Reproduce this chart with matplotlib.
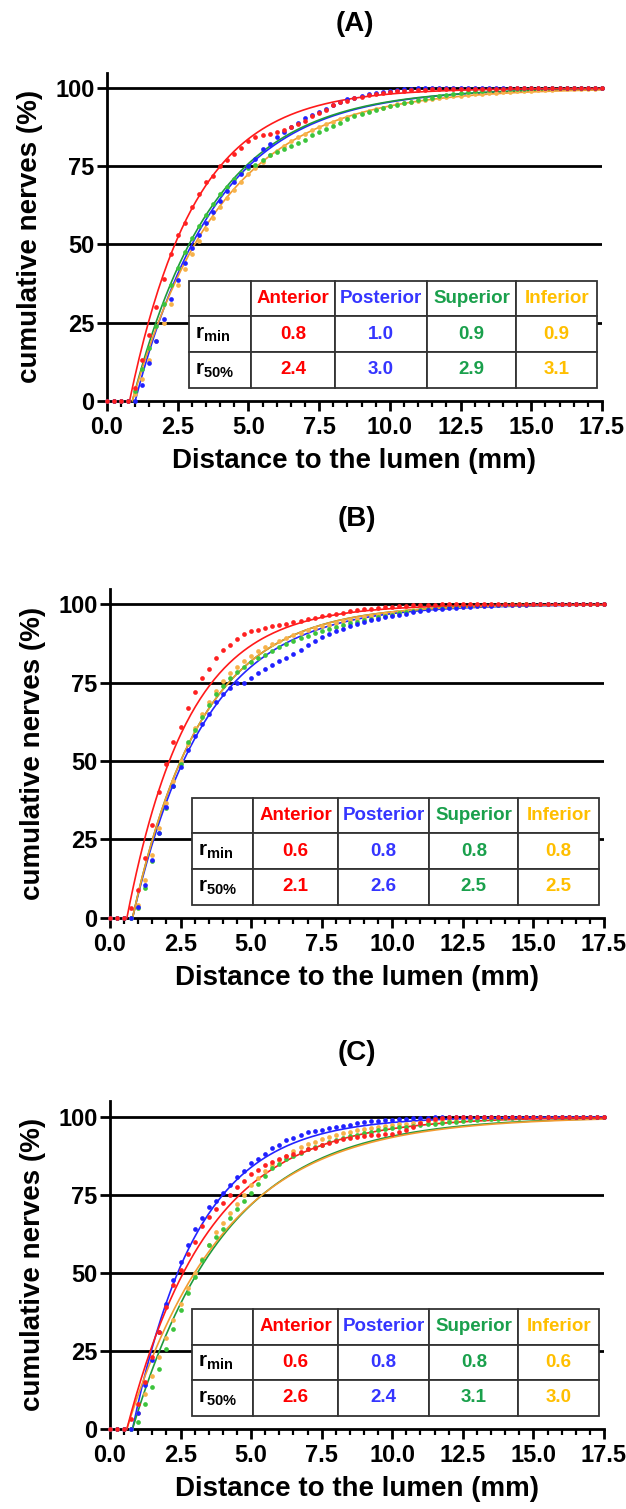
import numpy as np
import matplotlib.pyplot as plt
from matplotlib.table import Table
from matplotlib.ticker import MultipleLocator, FormatStrFormatter

plt.rcParams['font.family'] = ['Liberation Sans', 'DejaVu Sans']
plt.rcParams['font.weight'] = 'bold'
plt.rcParams['mathtext.fontset'] = 'custom'
plt.rcParams['mathtext.bf'] = 'Liberation Sans:bold'
plt.rcParams['mathtext.rm'] = 'Liberation Sans:bold'

REGIONS = ["Anterior", "Posterior", "Superior", "Inferior"]
DISTANCE = np.arange(0, 17.5 + 0.125, 0.25)        # bin positions (mm)

# ---- panel A : measured cumulative % per bin ----
A_ANTERIOR = [0, 0, 0, 0, 4, 13, 21, 30, 39, 47,
              53, 57, 62, 66, 70, 72, 75, 77, 79, 81,
              83, 84.5, 85, 85.5, 86, 86.5, 87.5, 88.5, 89.5, 91,
              92, 93, 94.5, 95.5, 96, 96.8, 97.3, 97.8, 98.2, 98.5,
              98.8, 99, 99.2, 99.3, 99.4, 99.5, 99.6, 99.6, 99.7, 99.8,
              99.8, 99.8, 99.8, 99.9, 99.9, 99.9, 99.9, 100, 100, 100,
              100, 100, 100, 100, 100, 100, 100, 100, 100, 100,
              100]
A_POSTERIOR = [0, 0, 0, 0, 0, 5, 12, 19, 26, 32.5,
               38.5, 44, 49, 53, 57, 60.5, 64, 67, 70, 72.5,
               75, 77.5, 80.5, 82, 84.5, 86, 87.5, 89, 90.5, 91.5,
               92.5, 93.5, 94.5, 95.5, 96.5, 97, 97.5, 98, 98.5, 98.8,
               99.2, 99.5, 99.7, 99.9, 100, 100, 100, 100, 100, 100,
               100, 100, 100, 100, 100, 100, 100, 100, 100, 100,
               100, 100, 100, 100, 100, 100, 100, 100, 100, 100,
               100]
A_SUPERIOR = [0, 0, 0, 0, 3, 10, 17, 24, 31, 37,
              42.5, 47.5, 52, 56, 59.5, 63, 66, 68.5, 71, 73,
              74.5, 75.5, 77, 78.5, 79.5, 80.5, 81.5, 82.5, 83.5, 85,
              86, 87, 88, 89, 90, 91, 91.8, 92.5, 93, 93.6,
              94.2, 94.7, 95.2, 95.7, 96.2, 96.6, 97, 97.4, 97.8, 98.1,
              98.4, 98.7, 99, 99.2, 99.4, 99.6, 99.7, 99.8, 99.9, 99.9,
              100, 100, 100, 100, 100, 100, 100, 100, 100, 100,
              100]
A_INFERIOR = [0, 0, 0, 0, 2, 7, 13, 19, 25, 31,
              37, 42, 47, 51, 55, 58.5, 62, 65, 67.5, 70,
              72.5, 74.5, 76.5, 78.5, 80, 81.5, 83, 84.5, 85.5, 86.5,
              87.5, 88.5, 89.3, 90, 90.8, 91.5, 92.2, 92.8, 93.3, 93.8,
              94.3, 94.8, 95.2, 95.6, 96, 96.3, 96.6, 96.9, 97.1, 97.4,
              97.6, 97.8, 98, 98.2, 98.4, 98.6, 98.7, 98.9, 99, 99.1,
              99.2, 99.3, 99.4, 99.5, 99.6, 99.7, 99.8, 99.8, 99.9, 99.9,
              100]
A_RMIN = [0.8, 1.0, 0.9, 0.9]
A_R50 = [2.4, 3.0, 2.9, 3.1]

# ---- panel B ----
B_ANTERIOR = [0, 0, 0, 3, 9, 19, 29.5, 40, 49, 56,
              61, 67, 72, 76.5, 79.5, 83, 85.5, 87, 89, 90.5,
              91.5, 92, 92.5, 93, 93.3, 93.8, 94.3, 94.8, 95.3, 95.8,
              96.2, 96.6, 97, 97.4, 97.8, 98.1, 98.4, 98.7, 98.9, 99.1,
              99.3, 99.5, 99.6, 99.7, 99.8, 99.9, 99.9, 100, 100, 100,
              100, 100, 100, 100, 100, 100, 100, 100, 100, 100,
              100, 100, 100, 100, 100, 100, 100, 100, 100, 100,
              100]
B_POSTERIOR = [0, 0, 0, 0, 3.5, 10.5, 18.5, 27, 35.5, 42,
               48, 53.5, 58, 62, 65, 69, 71.5, 73.5, 74.8, 75,
               76.5, 78, 79.5, 80.6, 82, 83, 84.3, 85.5, 87, 88.3,
               89.5, 90.5, 91.5, 92.2, 93, 93.7, 94.3, 94.9, 95.4, 95.9,
               96.3, 96.7, 97.1, 97.5, 97.8, 98.1, 98.4, 98.6, 98.8, 99,
               99.2, 99.3, 99.4, 99.5, 99.6, 99.7, 99.8, 99.8, 99.9, 99.9,
               100, 100, 100, 100, 100, 100, 100, 100, 100, 100,
               100]
B_SUPERIOR = [0, 0, 0, 0, 3, 9.5, 18, 27, 35, 42,
              49, 56, 60, 64, 68, 71.5, 74, 76.5, 78.5, 80,
              81.5, 83, 84, 85.3, 86.3, 87.3, 88.3, 89.2, 90, 90.8,
              91.5, 92.2, 92.8, 93.4, 94, 94.5, 95, 95.5, 96, 96.4,
              96.8, 97.2, 97.6, 97.9, 98.2, 98.5, 98.8, 99, 99.2, 99.4,
              99.5, 99.6, 99.7, 99.8, 99.9, 99.9, 100, 100, 100, 100,
              100, 100, 100, 100, 100, 100, 100, 100, 100, 100,
              100]
B_INFERIOR = [0, 0, 0, 0, 4, 12, 20, 28.5, 36.5, 43.5,
              50, 55.5, 60.5, 65, 69, 72.5, 75.5, 78, 80, 82,
              83.5, 85, 86.3, 87.5, 88.5, 89.4, 90.2, 91, 91.7, 92.4,
              93, 93.6, 94.1, 94.6, 95.1, 95.5, 95.9, 96.3, 96.7, 97,
              97.3, 97.6, 97.9, 98.2, 98.4, 98.6, 98.8, 99, 99.1, 99.2,
              99.3, 99.4, 99.5, 99.6, 99.7, 99.7, 99.8, 99.8, 99.9, 99.9,
              100, 100, 100, 100, 100, 100, 100, 100, 100, 100,
              100]
B_RMIN = [0.6, 0.8, 0.8, 0.8]
B_R50 = [2.1, 2.6, 2.5, 2.5]

# ---- panel C ----
C_ANTERIOR = [0, 0, 0, 3, 8, 15, 23, 31, 39, 46,
              51, 56, 60, 65, 68, 70.5, 72.5, 75, 77.5, 79.5,
              81.5, 83, 84.5, 85.5, 86.5, 87.5, 88, 88.8, 89.5, 90,
              90.8, 91.5, 92.2, 92.8, 93.2, 93.5, 93.8, 94, 94.2, 94.4,
              94.6, 95, 95.6, 96.8, 98, 98.8, 99.3, 99.6, 99.8, 99.9,
              100, 100, 100, 100, 100, 100, 100, 100, 100, 100,
              100, 100, 100, 100, 100, 100, 100, 100, 100, 100,
              100]
C_POSTERIOR = [0, 0, 0, 0, 5, 14, 22, 31, 40, 47.8,
               53.5, 59, 64, 67.5, 71, 73, 75.5, 78, 80.8, 82.5,
               85.2, 86.6, 88, 90, 91, 92.5, 93.3, 94.1, 95, 95.5,
               95.9, 96.3, 96.7, 97.1, 97.5, 97.9, 98.2, 98.5, 98.7, 98.9,
               99.1, 99.3, 99.4, 99.5, 99.6, 99.7, 99.8, 99.8, 99.9, 99.9,
               100, 100, 100, 100, 100, 100, 100, 100, 100, 100,
               100, 100, 100, 100, 100, 100, 100, 100, 100, 100,
               100]
C_SUPERIOR = [0, 0, 0, 0, 2, 8, 13.5, 19, 25.5, 32,
              38, 43.5, 48.5, 54, 59, 61.5, 64, 67.5, 70.5, 73,
              75.5, 78.5, 81, 83.5, 85, 86.5, 87.5, 88.5, 89.5, 90.3,
              91, 91.8, 92.5, 93.2, 93.8, 94.3, 94.8, 95.2, 95.6, 96,
              96.3, 96.6, 96.8, 97.1, 97.3, 97.6, 97.8, 98, 98.2, 98.4,
              98.6, 98.8, 99, 99.2, 99.3, 99.4, 99.5, 99.6, 99.7, 99.8,
              99.8, 99.9, 99.9, 99.9, 100, 100, 100, 100, 100, 100,
              100]
C_INFERIOR = [0, 0, 0, 0, 5, 11, 17, 23, 29, 35,
              40, 45, 50, 54.5, 59, 63, 66, 69, 72, 75,
              78, 80.5, 82.5, 84.5, 86, 87.5, 89, 90.2, 91.2, 92,
              92.8, 93.5, 94.2, 94.7, 95.2, 95.6, 96, 96.4, 96.7, 97,
              97.3, 97.6, 97.8, 98, 98.2, 98.4, 98.6, 98.8, 98.9, 99,
              99.2, 99.3, 99.4, 99.5, 99.6, 99.7, 99.7, 99.8, 99.8, 99.9,
              99.9, 99.9, 100, 100, 100, 100, 100, 100, 100, 100,
              100]
C_RMIN = [0.6, 0.8, 0.8, 0.6]
C_R50 = [2.6, 2.4, 3.1, 3.0]

LINE_COLORS = ['#ff1a1a', '#2424ff', '#1f9a3c', '#f29b30']
DOT_COLORS = ['#ff2020', '#2020ff', '#3cc43c', '#f7b24a']
TEXT_COLORS = ['#ff0000', '#3535ff', '#1aa04c', '#ffbf00']


def fit_curve(r_min, r_50, x):
    # one-phase exponential fit, pinned by r_min and r_50% from the table
    k = np.log(2) / (r_50 - r_min)
    return 100 * (1 - np.exp(-k * (x - r_min)))


def draw_panel(rect, series, r_min, r_50):
    ax = fig.add_axes(rect)
    for v in [25, 50, 75, 100]:
        ax.axhline(v, color='black', lw=2, zorder=1)
    # blue, green, orange, then red on top (orange hides green in B)
    for i in [1, 2, 3, 0]:
        xs = np.linspace(r_min[i], 17.5, 300)
        ax.plot(xs, fit_curve(r_min[i], r_50[i], xs), color=LINE_COLORS[i],
                lw=1.2, zorder=3, clip_on=False)
    for i in [3, 2, 1, 0]:
        ax.plot(DISTANCE, series[i], ls='none', marker='o', ms=3.4, mew=0,
                color=DOT_COLORS[i], zorder=4, clip_on=False)

    ax.set_xlim(0, 17.5)
    ax.set_ylim(0, 105)
    for s in ['top', 'right']:
        ax.spines[s].set_visible(False)
    for s in ['left', 'bottom']:
        ax.spines[s].set_linewidth(2)
    ax.set_yticks([0, 25, 50, 75, 100])
    ax.xaxis.set_major_locator(MultipleLocator(2.5))
    ax.xaxis.set_minor_locator(MultipleLocator(0.5))
    ax.xaxis.set_major_formatter(FormatStrFormatter('%.1f'))
    ax.tick_params(axis='both', which='major', length=7, width=2,
                   labelsize=17)
    ax.tick_params(axis='x', which='major', pad=4)
    ax.tick_params(axis='y', which='major', pad=2)
    ax.tick_params(axis='x', which='minor', length=4, width=1.6)
    for lab in ax.get_xticklabels() + ax.get_yticklabels():
        lab.set_fontweight('bold')

    ax.set_xlabel('Distance to the lumen (mm)', fontsize=20, fontweight='bold')
    ax.set_ylabel('cumulative nerves (%)', fontsize=20, fontweight='bold')
    ax.xaxis.set_label_coords(0.5, -0.145)
    ax.yaxis.set_label_coords(-0.13, 0.5)

    # summary table
    tbl = Table(ax, bbox=[0.166, 0.04, 0.824, 0.325])
    col_w = [0.151, 0.207, 0.225, 0.219, 0.198]
    rows = [[''] + REGIONS,
            [r'$\mathbf{r}_{\mathbf{min}}$'] + ['%.1f' % v for v in r_min],
            [r'$\mathbf{r}_{\mathbf{50\%}}$'] + ['%.1f' % v for v in r_50]]
    for r, row in enumerate(rows):
        for c, txt in enumerate(row):
            cell = tbl.add_cell(r, c, width=col_w[c], height=1 / 3, text=txt,
                                loc='left' if c == 0 else 'center',
                                facecolor='white', edgecolor='#333333')
            cell.set_linewidth(1.3)
            t = cell.get_text()
            t.set_fontweight('bold')
            t.set_color('black' if c == 0 else TEXT_COLORS[c - 1])
    tbl.auto_set_font_size(False)
    tbl.set_fontsize(13.5)
    for r in range(1, 3):
        tbl[r, 0].get_text().set_fontsize(15)
    tbl.set_zorder(5)
    ax.add_table(tbl)
    return ax


fig = plt.figure(figsize=(6.26, 15.09), dpi=100)
draw_panel([0.1709, 0.7345, 0.7907, 0.2174],
           [A_ANTERIOR, A_POSTERIOR, A_SUPERIOR, A_INFERIOR], A_RMIN, A_R50)
draw_panel([0.1757, 0.3918, 0.7891, 0.2180],
           [B_ANTERIOR, B_POSTERIOR, B_SUPERIOR, B_INFERIOR], B_RMIN, B_R50)
draw_panel([0.1757, 0.0532, 0.7891, 0.2171],
           [C_ANTERIOR, C_POSTERIOR, C_SUPERIOR, C_INFERIOR], C_RMIN, C_R50)

# panel letters, centred over each plot
for label, cx, cy in [('(A)', 355, 24), ('(B)', 357, 519), ('(C)', 357, 1053)]:
    fig.text(cx / 626, 1 - cy / 1509, label, ha='center', va='center',
             fontsize=20, fontweight='bold')

fig.savefig('out.png', dpi=100)
